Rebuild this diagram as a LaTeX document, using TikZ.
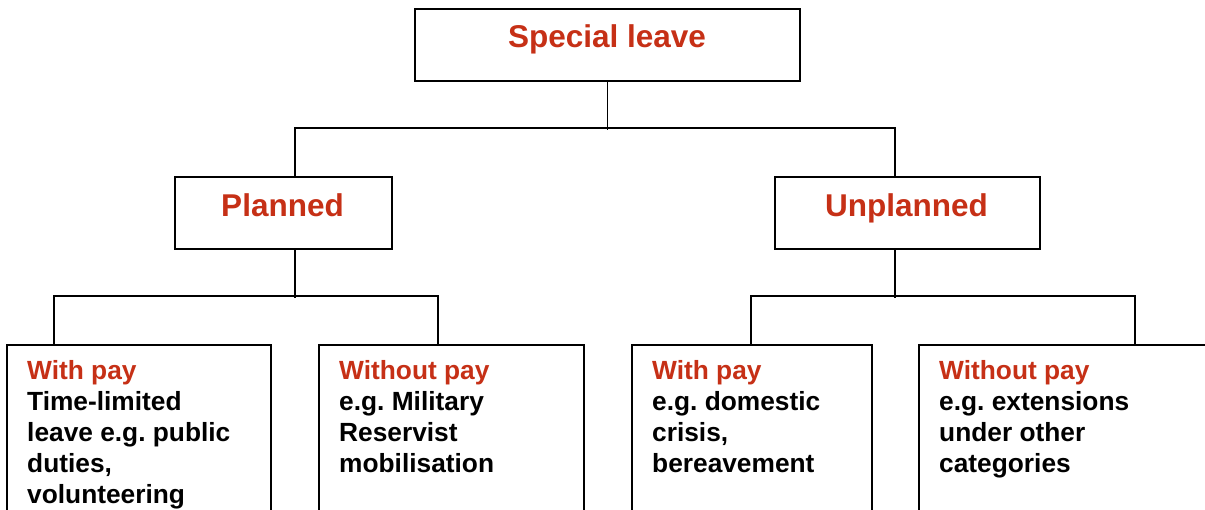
\documentclass[tikz,border=0pt]{standalone}
\usepackage{fontspec}
\setmainfont{Liberation Sans}
\frenchspacing
\definecolor{leavered}{RGB}{198,48,22}
\begin{document}
\begin{tikzpicture}[x=1pt,y=-1pt,
  box/.style={draw=black, line width=1.6pt, fill=white, inner sep=0pt, anchor=north west},
  head/.style={font=\fontsize{31.5}{36}\selectfont\bfseries, text=leavered, anchor=base, inner sep=0pt},
  body/.style={font=\fontsize{26.3}{31}\selectfont\bfseries\frenchspacing, align=left, anchor=north west, inner sep=0pt},
  conn/.style={draw=black, line width=1.6pt}]
\useasboundingbox (0,0) rectangle (1205,510);
\clip (0,0) rectangle (1205,510);
\fill[white] (0,0) rectangle (1205,510);
% boxes
\node[box, minimum width=385pt, minimum height=72pt] (sl) at (414,8) {};
\node[box, minimum width=217pt, minimum height=72pt] (pl) at (174,176) {};
\node[box, minimum width=265pt, minimum height=72pt] (un) at (774,176) {};
\node[box, minimum width=264pt, minimum height=166pt] (b1) at (6,344) {};
\node[box, minimum width=265pt, minimum height=166pt] (b2) at (318,344) {};
\node[box, minimum width=240pt, minimum height=166pt] (b3) at (631,344) {};
\node[box, minimum width=300pt, minimum height=166pt] (b4) at (918,344) {};
% connectors
\draw[conn] (sl.south) -- ++(0,48);
\draw[conn] ([xshift=121pt]pl.north west) -- ++(0,-48) -| ([xshift=121pt]un.north west);
\draw[conn] ([xshift=121pt]pl.south west) -- ++(0,48);
\draw[conn] ([xshift=48pt]b1.north west) -- ++(0,-48) -| ([xshift=120pt]b2.north west);
\draw[conn] ([xshift=121pt]un.south west) -- ++(0,48);
\draw[conn] ([xshift=120pt]b3.north west) -- ++(0,-48) -| ([xshift=217pt]b4.north west);
% headings
\node[head] (slt) at (607,48) {Special leave};
\node[head] (plt) at (282.5,217) {Planned};
\node[head] (unt) at (906.5,217) {Unplanned};
% bodies
\node[body] (b1t) at (27,360.5) {\textcolor{leavered}{With pay}\\Time-limited\\leave e.g. public\\duties,\\volunteering};
\node[body] (b2t) at (339,360.5) {\textcolor{leavered}{Without pay}\\e.g. Military\\Reservist\\mobilisation};
\node[body] (b3t) at (652,360.5) {\textcolor{leavered}{With pay}\\e.g. domestic\\crisis,\\bereavement};
\node[body] (b4t) at (939,360.5) {\textcolor{leavered}{Without pay}\\e.g. extensions\\under other\\categories};
\end{tikzpicture}
\end{document}
